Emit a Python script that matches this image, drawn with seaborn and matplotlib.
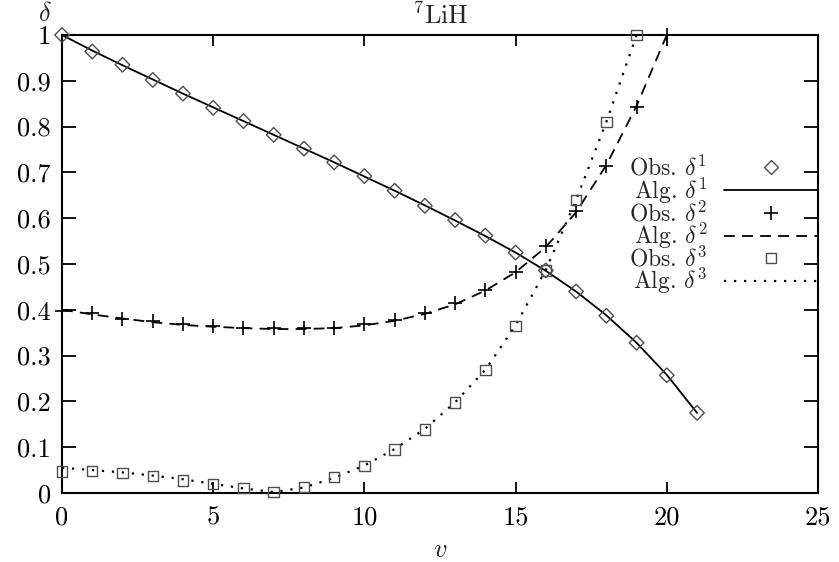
import matplotlib
matplotlib.use("Agg")
import matplotlib.pyplot as plt
import seaborn as sns
from matplotlib.lines import Line2D
from matplotlib.ticker import FixedLocator, FixedFormatter

# vibrational quantum number v for each ratio series
v1 = list(range(22))
v2 = list(range(21))
v3 = list(range(20))

# observed and algebraic-model ratios delta^1, delta^2, delta^3
obs1 = [1.000, 0.964, 0.935, 0.902, 0.872, 0.841, 0.812, 0.782, 0.752, 0.722, 0.692,
        0.660, 0.627, 0.596, 0.562, 0.525, 0.486, 0.440, 0.387, 0.328, 0.257, 0.175]
alg1 = [1.000, 0.966, 0.934, 0.903, 0.872, 0.842, 0.812, 0.782, 0.752, 0.722, 0.691,
        0.660, 0.628, 0.595, 0.561, 0.525, 0.485, 0.440, 0.388, 0.328, 0.258, 0.175]
obs2 = [0.398, 0.392, 0.381, 0.375, 0.370, 0.365, 0.361, 0.360, 0.360, 0.361, 0.369,
        0.378, 0.394, 0.414, 0.443, 0.483, 0.539, 0.615, 0.715, 0.843, 1.000]
alg2 = [0.400, 0.390, 0.381, 0.373, 0.367, 0.363, 0.360, 0.358, 0.358, 0.360, 0.366,
        0.376, 0.391, 0.412, 0.442, 0.482, 0.537, 0.613, 0.716, 0.845, 1.000]
obs3 = [0.047, 0.048, 0.044, 0.037, 0.027, 0.019, 0.011, 0.002, 0.013, 0.035, 0.059,
        0.095, 0.139, 0.198, 0.268, 0.365, 0.486, 0.640, 0.810, 1.000]
alg3 = [0.055, 0.050, 0.045, 0.038, 0.030, 0.020, 0.010, 0.002, 0.012, 0.033, 0.060,
        0.096, 0.140, 0.198, 0.269, 0.366, 0.487, 0.640, 0.810, 1.000]

xticks = [0, 5, 10, 15, 20, 25]
xtick_labels = ["0", "5", "10", "15", "20", "25"]
yticks = [0, 0.1, 0.2, 0.3, 0.4, 0.5, 0.6, 0.7, 0.8, 0.9, 1.0]
ytick_labels = ["0", "0.1", "0.2", "0.3", "0.4", "0.5", "0.6", "0.7", "0.8", "0.9", "1"]

legend_labels = [r"Obs. $\delta^1$", r"Alg. $\delta^1$",
                 r"Obs. $\delta^2$", r"Alg. $\delta^2$",
                 r"Obs. $\delta^3$", r"Alg. $\delta^3$"]

sns.set_theme(style="white")
plt.rcParams["font.family"] = ["cmr10", "DejaVu Serif"]
plt.rcParams["mathtext.fontset"] = "cm"
plt.rcParams["axes.unicode_minus"] = False

FS = 19
LEG_FS = 17
DASHED = (0, (6, 4))
DOTTED = (0, (1, 3.5))
MK_EDGE = "0.3"

fig = plt.figure(figsize=(8.39, 5.62), dpi=100)
ax = fig.add_axes([62 / 839, 69 / 562, 756 / 839, 458 / 562])

# algebraic model curves
sns.lineplot(x=v1, y=alg1, ax=ax, color="black", linewidth=1.3, linestyle="-")
sns.lineplot(x=v2, y=alg2, ax=ax, color="black", linewidth=1.3, linestyle=DASHED)
sns.lineplot(x=v3, y=alg3, ax=ax, color="black", linewidth=1.6, linestyle=DOTTED)

# observed points
sns.scatterplot(x=v1, y=obs1, ax=ax, marker="D", s=55, facecolor="none",
                edgecolor=MK_EDGE, linewidth=1.0, clip_on=False, zorder=3)
sns.scatterplot(x=v2, y=obs2, ax=ax, marker="+", s=95, color="black",
                linewidth=1.2, clip_on=False, zorder=3)
sns.scatterplot(x=v3, y=obs3, ax=ax, marker="s", s=56, facecolor="none",
                edgecolor=MK_EDGE, linewidth=1.0, clip_on=False, zorder=3)

ax.set_xlim(0, 25)
ax.set_ylim(0, 1)
ax.xaxis.set_major_locator(FixedLocator(xticks))
ax.xaxis.set_major_formatter(FixedFormatter(xtick_labels))
ax.yaxis.set_major_locator(FixedLocator(yticks))
ax.yaxis.set_major_formatter(FixedFormatter(ytick_labels))

for sp in ax.spines.values():
    sp.set_visible(True)
    sp.set_color("black")
    sp.set_linewidth(1.5)

ax.tick_params(axis="both", which="major", direction="in", colors="black",
               width=1.3, labelsize=FS, top=True, bottom=True, left=True, right=True)
ax.tick_params(axis="x", length=8, pad=9)
ax.tick_params(axis="y", length=10, pad=8)

ax.set_xlabel(r"$v$", fontsize=FS)
ax.xaxis.set_label_coords(0.5, -0.124)
ax.xaxis.label.set_va("center")
ax.set_ylabel(r"$\delta$", fontsize=FS, rotation=0, va="center", ha="center")
ax.yaxis.set_label_coords(-0.022, 1.046)
ax.set_title(r"$^7$LiH", fontsize=FS, y=1.042, va="center", pad=0)

handles = [
    Line2D([], [], marker="D", markersize=7.4, markerfacecolor="none",
           markeredgecolor=MK_EDGE, markeredgewidth=1.0, linestyle="none"),
    Line2D([], [], color="black", linewidth=1.3, linestyle="-"),
    Line2D([], [], marker="+", markersize=9.7, color="black",
           markeredgewidth=1.2, linestyle="none"),
    Line2D([], [], color="black", linewidth=1.3, linestyle=DASHED),
    Line2D([], [], marker="s", markersize=7.5, markerfacecolor="none",
           markeredgecolor=MK_EDGE, markeredgewidth=1.0, linestyle="none"),
    Line2D([], [], color="black", linewidth=1.6, linestyle=DOTTED),
]
ax.legend(handles, legend_labels, loc="center right", bbox_to_anchor=(1.0, 0.583),
          frameon=False, markerfirst=False, fontsize=LEG_FS, handlelength=4.0,
          handletextpad=0.7, labelspacing=-0.21, borderpad=0, borderaxespad=0)

fig.savefig("out.png", dpi=100)
